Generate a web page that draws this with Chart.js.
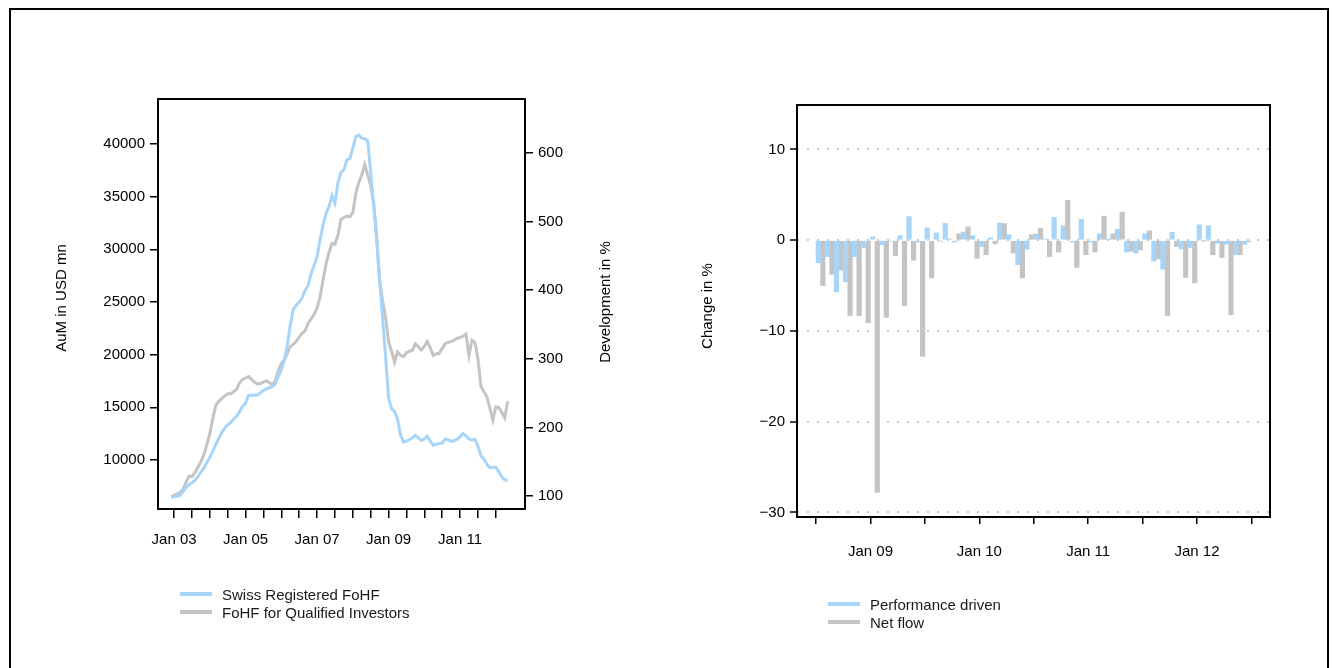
<!DOCTYPE html>
<html>
<head>
<meta charset="utf-8">
<script src="https://cdn.jsdelivr.net/npm/chart.js@4.4.1/dist/chart.umd.min.js"></script>
<style>
  html, body { margin: 0; padding: 0; background: #fff; overflow: hidden; }
  body { width: 1332px; height: 668px; position: relative; font-family: "Liberation Sans", Arial, sans-serif; }
  #frame { position: absolute; left: 9px; top: 8px; width: 1316px; height: 700px; border: 2px solid #000; }
  .panel { position: absolute; top: 0; width: 666px; height: 668px; }
  #leftPanel { left: 0; }
  #rightPanel { left: 666px; }
  .legend { position: absolute; font-size: 15px; color: #1a1a1a; }
  .legend .item { display: flex; align-items: center; height: 18px; white-space: nowrap; }
  .legend .sw { display: inline-block; width: 32px; height: 4px; margin-right: 10px; }
</style>
</head>
<body>
<div id="frame"></div>
<div class="panel" id="leftPanel"><canvas id="aumChart" width="666" height="668"></canvas></div>
<div class="panel" id="rightPanel"><canvas id="changeChart" width="666" height="668"></canvas></div>
<div class="legend" id="aumLegend" style="left:180px; top:585px;"></div>
<div class="legend" id="changeLegend" style="left:828px; top:595px;"></div>

<script>
// ---- Assets under management (monthly, Dec 2002 – May 2012) ----
const aumStart = { year: 2002, month: 12 };
const seriesNames = ['Swiss Registered FoHF', 'FoHF for Qualified Investors'];

// Swiss Registered FoHF, AuM in USD mn (left axis)
const swissAum = [
  6470, 6520, 6580, 6630, 7000, 7400, 7650, 7850, 8060, 8450, 8850, 9250,
  9750, 10250, 10850, 11450, 12050, 12600, 13000, 13350, 13550, 13900, 14150, 14600,
  15100, 15400, 16150, 16150, 16140, 16150, 16400, 16600, 16750, 16870, 16950, 17250,
  17950, 18550, 19500, 20900, 22800, 24300, 24700, 25000, 25400, 26100, 26600, 27700,
  28500, 29300, 30900, 32300, 33400, 34040, 35100, 34400, 36300, 37300, 37550, 38500,
  38600, 39600, 40700, 40850, 40550, 40500, 40300, 37300, 34200, 31000, 27100, 23500,
  19800, 15900, 14900, 14600, 13900, 12400, 11700, 11800, 11950, 12100, 12350, 12100,
  11850, 12000, 12250, 11800, 11400, 11500, 11550, 11600, 12000, 11900, 11770, 11850,
  11950, 12200, 12500, 12300, 12000, 11900, 11950, 11300, 10400, 10100, 9600, 9250,
  9300, 9330, 8900, 8400, 8120, 8060
];

// FoHF for Qualified Investors, development in % (right axis)
const qualifiedDev = [
  99, 101, 103, 105, 110, 120, 129, 128, 134, 142, 150, 160,
  175, 191, 213, 232, 238, 242, 246, 249, 249, 252, 256, 265,
  270, 272, 274, 270, 266, 263, 264, 266, 268, 265, 262, 268,
  283, 293, 298, 308, 318, 321, 325, 332, 337, 341, 352, 358,
  365, 374, 390, 415, 438, 455, 468, 467, 480, 503, 506, 508,
  507, 513, 541, 557, 568, 583, 568, 552, 527, 478, 412, 385,
  360, 325, 311, 295, 310, 305, 303, 309, 311, 312, 322, 318,
  313, 318, 325, 316, 305, 307, 308, 315, 322, 324, 325, 327,
  330, 331, 333, 336, 305, 327, 324, 300, 260, 252, 245, 228,
  211, 230, 229, 222, 214, 238
];

const aumLeftTicks = [10000, 15000, 20000, 25000, 30000, 35000, 40000];
const aumRightTicks = [100, 200, 300, 400, 500, 600];
// x ticks every six months, Jan 03 .. Jan 12 (months after Jan 2003); labels every two years
const aumXTicks = [0, 6, 12, 18, 24, 30, 36, 42, 48, 54, 60, 66, 72, 78, 84, 90, 96, 102, 108];
const aumXLabelled = [0, 24, 48, 72, 96];

// ---- Monthly change decomposition (Jul 2008 – Jun 2012), in % ----
const changeStart = { year: 2008, month: 7 };
const changeNames = ['Performance driven', 'Net flow'];
const performanceDriven = [
  -2.5, -1.8, -5.7, -4.6, -1.8, -0.85, 0.37, -0.5, -0.1, 0.5, 2.6, -0.2,
  1.36, 0.8, 1.84, -0.2, 0.9, 0.5, -0.7, 0.25, 1.9, 0.6, -2.7, -1.0,
  0.7, 0.15, 2.5, 1.6, -0.2, 2.3, -0.2, 0.7, 0.05, 1.2, -1.3, -1.4,
  0.7, -2.3, -3.2, 0.88, -0.96, -0.8, 1.7, 1.6, -0.33, -0.44, -1.6, -0.44
];
const netFlow = [
  -5.0, -3.75, -3.3, -8.3, -8.3, -9.1, -27.8, -8.5, -1.7, -7.2, -2.2, -12.8,
  -4.15, -0.1, 0.15, 0.7, 1.47, -2.0, -1.6, -0.4, 1.84, -1.4, -4.15, 0.6,
  1.3, -1.8, -1.3, 4.4, -3.0, -1.6, -1.3, 2.65, 0.7, 3.1, -1.2, -1.07,
  1.03, -2.06, -8.3, -0.7, -4.1, -4.7, -0.05, -1.6, -1.9, -8.2, -1.6, -0.15
];
const changeYTicks = [-30, -20, -10, 0, 10];
// x ticks every six months, Jul 08 .. Jul 12 (months after Jul 2008)
const changeXTicks = [0, 6, 12, 18, 24, 30, 36, 42, 48];

const BLUE = '#a7d5fa';
const GREY = '#c4c4c4';
const FONT = '"Liberation Sans", Arial, sans-serif';

Chart.defaults.font.family = FONT;
Chart.defaults.font.size = 15;
Chart.defaults.color = '#000';

// "Jan yy" label for a month offset from a start month
function monthLabel(start, offset) {
  const total = start.year * 12 + (start.month - 1) + Math.round(offset);
  const y = Math.floor(total / 12), m = total % 12;
  const names = ['Jan', 'Feb', 'Mar', 'Apr', 'May', 'Jun', 'Jul', 'Aug', 'Sep', 'Oct', 'Nov', 'Dec'];
  return names[m] + ' ' + String(y % 100).padStart(2, '0');
}

// box around the plot area plus axis titles reading bottom-to-top
const boxAndTitles = {
  id: 'boxAndTitles',
  afterDraw(chart, args, opts) {
    const { ctx, chartArea: a } = chart;
    ctx.save();
    ctx.strokeStyle = '#000';
    ctx.lineWidth = 2;
    ctx.strokeRect(a.left, a.top, a.right - a.left, a.bottom - a.top);
    ctx.fillStyle = '#000';
    ctx.font = '15px ' + FONT;
    ctx.textAlign = 'center';
    ctx.textBaseline = 'middle';
    (opts.titles || []).forEach(t => {
      ctx.save();
      const x = t.side === 'left' ? a.left - t.offset : a.right + t.offset;
      ctx.translate(x, (a.top + a.bottom) / 2 + (t.dy || 0));
      ctx.rotate(-Math.PI / 2);
      ctx.fillText(t.text, 0, 0);
      ctx.restore();
    });
    ctx.restore();
  }
};

const tickGrid = { drawOnChartArea: false, drawTicks: true, color: '#000', lineWidth: 1.5 };

// ---------- left chart ----------
new Chart(document.getElementById('aumChart'), {
  type: 'line',
  data: {
    datasets: [
      {
        label: seriesNames[0],
        data: swissAum.map((v, i) => ({ x: i - 1, y: v })),
        borderColor: BLUE, borderWidth: 3, pointRadius: 0, tension: 0, yAxisID: 'y'
      },
      {
        label: seriesNames[1],
        data: qualifiedDev.map((v, i) => ({ x: i - 1, y: v })),
        borderColor: GREY, borderWidth: 3, pointRadius: 0, tension: 0, yAxisID: 'y1'
      }
    ]
  },
  options: {
    responsive: false, animation: false, devicePixelRatio: 1,
    layout: { padding: { left: 0, top: 99, right: 41, bottom: 99 } },
    plugins: {
      legend: { display: false }, tooltip: { enabled: false },
      boxAndTitles: { titles: [
        { side: 'left', offset: 96, text: 'AuM in USD mn', dy: -6 },
        { side: 'right', offset: 81, text: 'Development in %', dy: -2 }
      ] }
    },
    scales: {
      x: {
        type: 'linear', position: 'bottom', min: -5.4, max: 117.8, offset: false,
        afterBuildTicks: s => { s.ticks = aumXTicks.map(v => ({ value: v })); },
        afterFit: s => { s.height = 60; },
        ticks: {
          autoSkip: false, maxRotation: 0, padding: 13,
          callback: v => (aumXLabelled.includes(v) ? monthLabel({ year: 2003, month: 1 }, v) : '')
        },
        grid: Object.assign({ tickLength: 9 }, tickGrid),
        border: { display: false }
      },
      y: {
        type: 'linear', position: 'left', min: 5348, max: 44272,
        afterBuildTicks: s => { s.ticks = aumLeftTicks.map(v => ({ value: v })); },
        afterFit: s => { s.width = 158; },
        ticks: { padding: 5, callback: v => String(v) },
        grid: Object.assign({ tickLength: 8 }, tickGrid),
        border: { display: false }
      },
      y1: {
        type: 'linear', position: 'right', min: 81.05, max: 678.7,
        afterBuildTicks: s => { s.ticks = aumRightTicks.map(v => ({ value: v })); },
        afterFit: s => { s.width = 100; },
        ticks: { padding: 5, callback: v => String(v) },
        grid: Object.assign({ tickLength: 8 }, tickGrid),
        border: { display: false }
      }
    }
  },
  plugins: [boxAndTitles]
});

// ---------- right chart ----------
new Chart(document.getElementById('changeChart'), {
  type: 'bar',
  data: {
    datasets: [
      {
        label: changeNames[0],
        data: performanceDriven.map((v, i) => ({ x: i + 0.5, y: v })),
        backgroundColor: BLUE, borderWidth: 0
      },
      {
        label: changeNames[1],
        data: netFlow.map((v, i) => ({ x: i + 0.5, y: v })),
        backgroundColor: GREY, borderWidth: 0
      }
    ]
  },
  options: {
    responsive: false, animation: false, devicePixelRatio: 1,
    layout: { padding: { left: 0, top: 105, right: 62, bottom: 91 } },
    datasets: { bar: { categoryPercentage: 1, barPercentage: 1, grouped: true } },
    plugins: {
      legend: { display: false }, tooltip: { enabled: false },
      boxAndTitles: { titles: [
        { side: 'left', offset: 89, text: 'Change in %', dy: -5 }
      ] }
    },
    scales: {
      x: {
        type: 'linear', position: 'bottom', min: -2.1, max: 50.05, offset: false,
        afterBuildTicks: s => { s.ticks = changeXTicks.map(v => ({ value: v })); },
        afterFit: s => { s.height = 60; },
        ticks: {
          autoSkip: false, maxRotation: 0, padding: 19,
          callback: v => { const l = monthLabel(changeStart, v); return l.startsWith('Jan') ? l : ''; }
        },
        grid: Object.assign({ tickLength: 7, offset: false }, tickGrid),
        border: { display: false }
      },
      y: {
        type: 'linear', position: 'left', min: -30.5, max: 14.9,
        afterBuildTicks: s => { s.ticks = changeYTicks.map(v => ({ value: v })); },
        afterFit: s => { s.width = 131; },
        ticks: { padding: 5, callback: v => (v < 0 ? '\u2212' + Math.abs(v) : String(v)) },
        grid: {
          drawOnChartArea: true, drawTicks: true, tickLength: 7,
          color: '#c8c8c8', lineWidth: 2,
          tickColor: '#000', tickWidth: 1.5, tickBorderDash: []
        },
        border: { display: false, dash: [2, 8] }
      }
    }
  },
  plugins: [boxAndTitles]
});

// ---------- legends ----------
function buildLegend(el, names, colors) {
  names.forEach((n, i) => {
    const row = document.createElement('div');
    row.className = 'item';
    const sw = document.createElement('span');
    sw.className = 'sw';
    sw.style.background = colors[i];
    const tx = document.createElement('span');
    tx.textContent = n;
    row.appendChild(sw);
    row.appendChild(tx);
    el.appendChild(row);
  });
}
buildLegend(document.getElementById('aumLegend'), seriesNames, [BLUE, GREY]);
buildLegend(document.getElementById('changeLegend'), changeNames, [BLUE, GREY]);
</script>
</body>
</html>
